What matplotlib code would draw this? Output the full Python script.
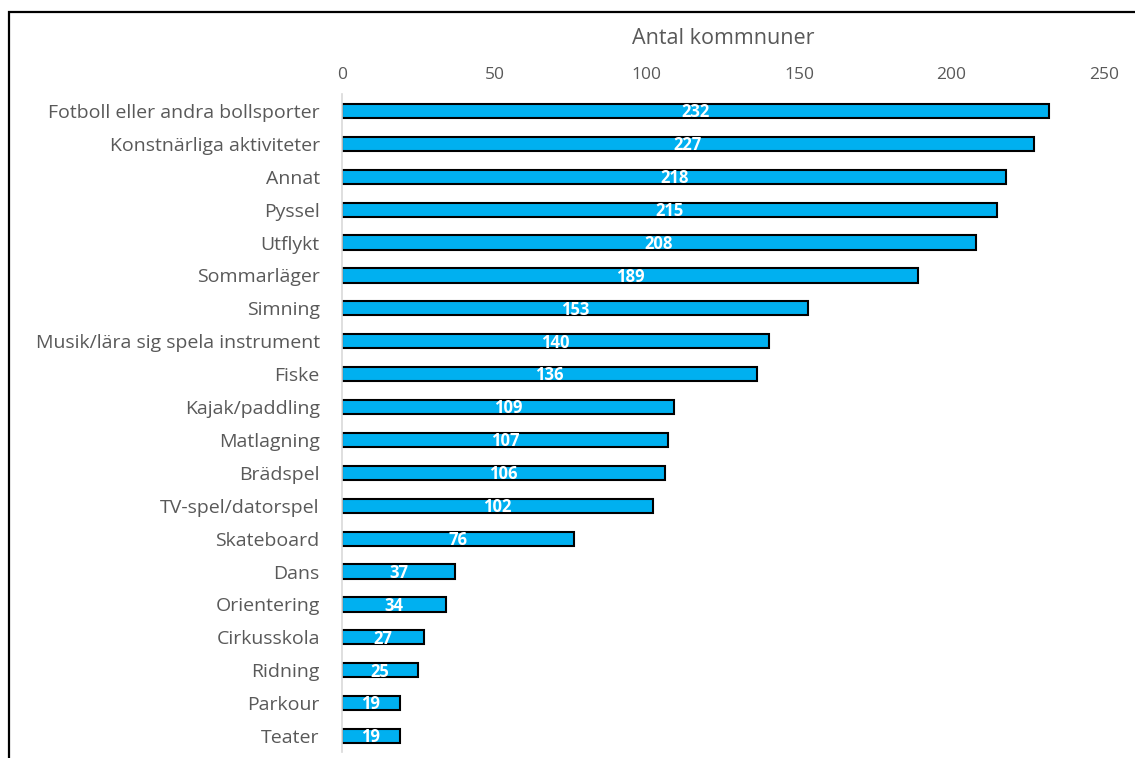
import matplotlib
matplotlib.use("Agg")
import matplotlib.pyplot as plt
from matplotlib.patches import Rectangle

categories = [
    "Fotboll eller andra bollsporter", "Konstnärliga aktiviteter", "Annat",
    "Pyssel", "Utflykt", "Sommarläger", "Simning",
    "Musik/lära sig spela instrument", "Fiske", "Kajak/paddling",
    "Matlagning", "Brädspel", "TV-spel/datorspel", "Skateboard", "Dans",
    "Orientering", "Cirkusskola", "Ridning", "Parkour", "Teater",
]
values = [232, 227, 218, 215, 208, 189, 153, 140, 136, 109,
          107, 106, 102, 76, 37, 34, 27, 25, 19, 19]
xticks = [0, 50, 100, 150, 200, 250]

plt.rcParams["font.family"] = ["Open Sans", "DejaVu Sans"]
GRAY = "#595959"

fig = plt.figure(figsize=(11.35, 7.58), dpi=100)
W, H = 1135, 758
ax = fig.add_axes([342 / W, 1 - 752.5 / H, (1104 - 342) / W, (752.5 - 94.5) / H])

y = list(range(len(categories)))
ax.barh(y, values, height=0.43, color="#00B0F0", edgecolor="black", linewidth=1.5)
for yi, v in zip(y, values):
    ax.text(v / 2, yi + 0.04, str(v), ha="center", va="center", color="white",
            fontsize=12, fontweight="bold")

ax.set_xlim(0, 250)
ax.set_ylim(len(categories) - 0.5, -0.5)
ax.set_yticks(y)
ax.set_yticklabels(categories, fontsize=14, color=GRAY)
ax.set_xticks(xticks)
ax.xaxis.tick_top()
ax.tick_params(axis="x", length=0, labelsize=12.5, labelcolor=GRAY, pad=8.5)
ax.tick_params(axis="y", length=0, pad=16)
ax.xaxis.set_label_position("top")
ax.set_xlabel("Antal kommnuner", fontsize=15.5, color=GRAY, labelpad=16)
for side in ("top", "right", "bottom"):
    ax.spines[side].set_visible(False)
ax.spines["left"].set_color("#d9d9d9")
ax.spines["left"].set_linewidth(1.2)

# outer frame (cropped on right and bottom)
fig.patches.append(Rectangle((9 / W, -0.1), 1.2, 1.1 - 12 / H,
                             transform=fig.transFigure, fill=False,
                             edgecolor="black", linewidth=1.6))

fig.savefig("out.png", dpi=100)
